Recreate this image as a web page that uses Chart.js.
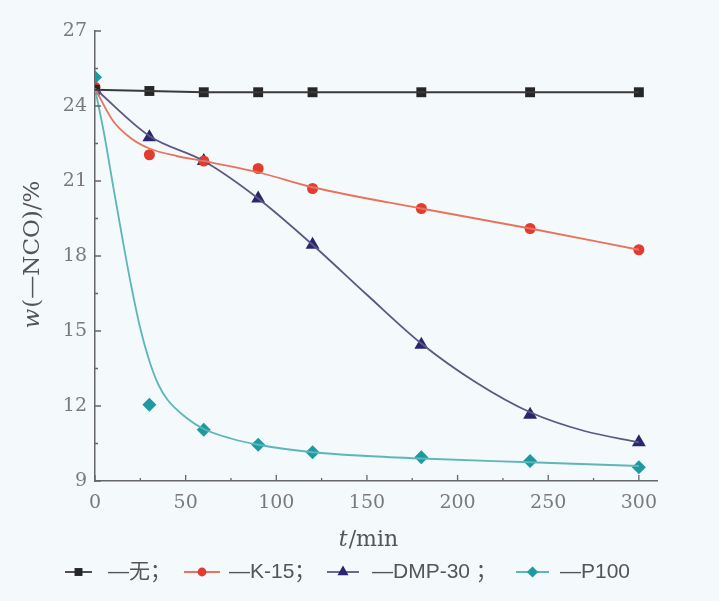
<!DOCTYPE html>
<html lang="zh">
<head>
<meta charset="UTF-8">
<title>w(—NCO) vs t</title>
<style>
  html, body { margin: 0; padding: 0; background: #f4f9fb; }
  #wrap { position: relative; width: 719px; height: 601px; }
</style>
</head>
<body>
<div id="wrap"><canvas id="chart" width="719" height="601"></canvas></div>
<script src="https://cdn.jsdelivr.net/npm/chart.js"></script>
<script>
// measured points
const times = [0, 30, 60, 90, 120, 180, 240, 300];
const seriesNames = ['无', 'K-15', 'DMP-30', 'P100'];
const noneValues = [24.65, 24.6, 24.55, 24.55, 24.55, 24.55, 24.55, 24.55];
const k15Values = [24.75, 22.05, 21.8, 21.5, 20.7, 19.9, 19.1, 18.25];
const dmpValues = [24.65, 22.75, 21.8, 20.3, 18.45, 14.45, 11.65, 10.55];
const p100Values = [25.15, 12.05, 11.05, 10.45, 10.15, 9.95, 9.8, 9.55];

// fitted curves
const k15FitT = [0, 10, 20, 30, 45, 60, 90, 120, 180, 240, 300];
const k15FitV = [24.7, 23.4, 22.7, 22.3, 22.0, 21.8, 21.35, 20.75, 19.9, 19.1, 18.25];
const dmpFitT = [0, 30, 60, 90, 120, 150, 180, 210, 240, 270, 300];
const dmpFitV = [24.7, 22.8, 21.8, 20.3, 18.45, 16.45, 14.5, 12.95, 11.75, 11.0, 10.55];
const p100FitT = [0, 5, 10, 15, 20, 25, 30, 35, 40, 50, 60, 75, 90, 120, 150, 180, 240, 300];
const p100FitV = [24.7, 22.9, 20.8, 18.75, 16.8, 15.1, 13.8, 12.85, 12.25, 11.55, 11.08, 10.7, 10.45, 10.15, 10.0, 9.9, 9.75, 9.6];

const xTicks = [0, 50, 100, 150, 200, 250, 300];
const yTicks = [9, 12, 15, 18, 21, 24, 27];

const pts = (xs, ys) => xs.map((x, i) => ({ x: x, y: ys[i] }));

const styles = [
    { marker: '#262626', line: '#3a3a3a', shape: 'rect', r: 7 },
    { marker: '#e23b2f', line: '#e8735c', shape: 'circle', r: 5.5 },
    { marker: '#2d2470', line: '#5c5880', shape: 'triangle', r: 8 },
    { marker: '#1c9aa0', line: '#5db6b8', shape: 'rectRot', r: 7 }
];

function lineSet(data, s, smooth) {
    return {
        data: data, showLine: true, borderColor: s.line, borderWidth: 1.8,
        pointRadius: 0, fill: false,
        cubicInterpolationMode: smooth ? 'monotone' : 'default', tension: 0
    };
}
function markerSet(data, s) {
    return {
        data: data, showLine: false, pointStyle: s.shape, pointRadius: s.r,
        backgroundColor: s.marker, borderColor: s.marker, borderWidth: 0
    };
}

// inward ticks, axis titles and legend
const extras = {
    id: 'extras',
    afterDraw(chart) {
        const ctx = chart.ctx;
        const xs = chart.scales.x, ys = chart.scales.y;
        const x0 = xs.left, y0 = ys.bottom;
        ctx.save();
        ctx.strokeStyle = '#666';
        ctx.lineWidth = 1.3;
        ctx.beginPath();
        for (let v = 0; v <= 300; v += 25) {
            const px = xs.getPixelForValue(v);
            ctx.moveTo(px, y0);
            ctx.lineTo(px, y0 - (v % 50 === 0 ? 6 : 3));
        }
        for (let v = 9; v <= 27; v += 1.5) {
            const py = ys.getPixelForValue(v);
            ctx.moveTo(x0, py);
            ctx.lineTo(x0 + (v % 3 === 0 ? 6 : 3), py);
        }
        ctx.stroke();

        // y title: w(—NCO)/%
        ctx.fillStyle = '#555';
        ctx.textBaseline = 'middle';
        ctx.save();
        ctx.translate(33, 255);
        ctx.rotate(-Math.PI / 2);
        const it = 'italic 23px "DejaVu Serif"', rm = '23px "DejaVu Serif"';
        ctx.font = it; const wW = ctx.measureText('w').width;
        ctx.font = rm; const restW = ctx.measureText('(—NCO)/%').width;
        let sx = -(wW + restW) / 2;
        ctx.textAlign = 'left';
        ctx.font = it; ctx.fillText('w', sx, 0);
        ctx.font = rm; ctx.fillText('(—NCO)/%', sx + wW + 1, 0);
        ctx.restore();

        // x title: t/min
        const it2 = 'italic 22px "DejaVu Serif"', rm2 = '22px "DejaVu Serif"';
        ctx.font = it2; const tW = ctx.measureText('t').width;
        ctx.font = rm2; const mW = ctx.measureText('/min').width;
        let tx = 368 - (tW + mW) / 2;
        ctx.textAlign = 'left';
        ctx.font = it2; ctx.fillText('t', tx, 540);
        ctx.font = rm2; ctx.fillText('/min', tx + tW + 1, 540);

        // legend
        const legendY = 572;
        const legendPos = [[65, 92, 108], [184, 220, 229], [327, 359, 372], [516, 549, 560]];
        const legendText = ['—' + seriesNames[0] + '；', '—' + seriesNames[1] + '；', '—' + seriesNames[2] + ' ；', '—' + seriesNames[3]];
        legendPos.forEach((p, i) => {
            const s = styles[i];
            ctx.strokeStyle = s.line;
            ctx.lineWidth = 1.8;
            ctx.beginPath();
            ctx.moveTo(p[0], legendY);
            ctx.lineTo(p[1], legendY);
            ctx.stroke();
            ctx.fillStyle = s.marker;
            ctx.strokeStyle = s.marker;
            Chart.helpers.drawPoint(ctx, { pointStyle: s.shape, radius: s.r * 0.8, borderWidth: 0, rotation: 0 }, (p[0] + p[1]) / 2, legendY);
            ctx.fillStyle = '#555';
            ctx.font = '21px "Liberation Sans", "Noto Sans CJK SC"';
            ctx.fillText(legendText[i], p[2], legendY);
        });
        ctx.restore();
    }
};

const tickFont = { family: '"DejaVu Serif"', size: 19 };

new Chart(document.getElementById('chart'), {
    type: 'scatter',
    data: {
        datasets: [
            lineSet(pts(times, noneValues), styles[0], false),
            lineSet(pts(k15FitT, k15FitV), styles[1], true),
            lineSet(pts(dmpFitT, dmpFitV), styles[2], true),
            lineSet(pts(p100FitT, p100FitV), styles[3], true),
            markerSet(pts(times, noneValues), styles[0]),
            markerSet(pts(times, k15Values), styles[1]),
            markerSet(pts(times, dmpValues), styles[2]),
            markerSet(pts(times, p100Values), styles[3])
        ]
    },
    options: {
        responsive: false,
        animation: false,
        layout: { padding: { left: 0, right: 62, top: 31, bottom: 50 } },
        plugins: { legend: { display: false }, tooltip: { enabled: false } },
        scales: {
            x: {
                type: 'linear', min: 0, max: 310,
                afterBuildTicks: s => { s.ticks = xTicks.map(v => ({ value: v })); },
                afterFit: s => { s.height = 70; },
                grid: { display: false, drawTicks: false },
                border: { display: true, color: '#666', width: 1.5 },
                ticks: { color: '#7a7a7a', font: tickFont, padding: 11, maxRotation: 0 }
            },
            y: {
                type: 'linear', min: 9, max: 27,
                afterBuildTicks: s => { s.ticks = yTicks.map(v => ({ value: v })); },
                afterFit: s => { s.width = 95; },
                grid: { display: false, drawTicks: false },
                border: { display: true, color: '#666', width: 1.5 },
                ticks: { color: '#7a7a7a', font: tickFont, padding: 8 }
            }
        }
    },
    plugins: [extras]
});
</script>
</body>
</html>
